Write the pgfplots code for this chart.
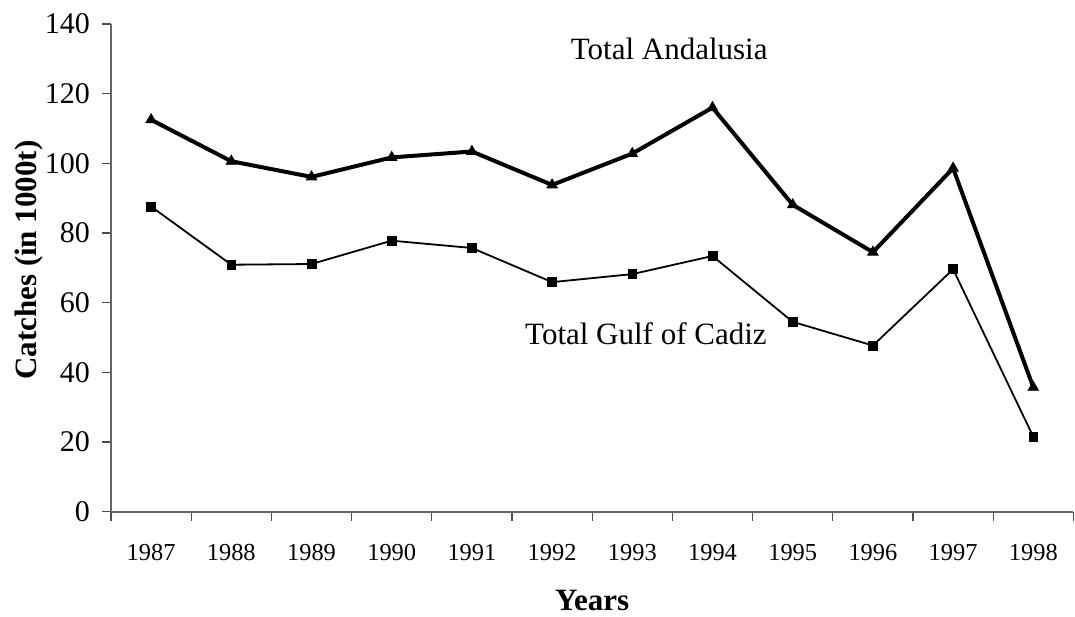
\documentclass[border=0pt]{standalone}
\usepackage{fontspec}
\setmainfont{Liberation Serif}
\usepackage{pgfplots}
\usepackage{pgfplotstable}
\pgfplotsset{compat=1.18}

% catches in 1000 t, years as 0..11 (1987..1998)
\pgfplotstableread{
idx andalusia cadiz
0   112.5  87.6
1   100.6  70.9
2    96.1  71.1
3   101.7  77.8
4   103.4  75.7
5    93.8  65.9
6   102.8  68.2
7   116.0  73.4
8    88.1  54.5
9    74.5  47.7
10   98.6  69.6
11   35.7  21.5
}\catches

\begin{document}
\begin{tikzpicture}
\useasboundingbox (-55.5pt,-52.15pt) rectangle (482pt,255.85pt);
\begin{axis}[
  scale only axis, width=481.2pt, height=243.85pt,
  xmin=-0.5, xmax=11.5, ymin=0, ymax=140,
  axis lines=left,
  axis line style={-, black!60, line width=0.8pt},
  tick align=outside, major tick length=4.5pt,
  tick style={black!70, line width=0.6pt},
  xtick={-0.5,0.5,...,11.5},
  x tick label as interval,
  xticklabels={1987,1988,1989,1990,1991,1992,1993,1994,1995,1996,1997,1998},
  ytick={0,20,...,140},
  /pgf/number format/assume math mode=true,
  xticklabel style={font=\fontsize{12.2}{14}\selectfont, yshift=-8.5pt},
  yticklabel style={font=\fontsize{15}{18}\selectfont, xshift=-2.5pt},
  ylabel={\textbf{Catches (in 1000t)}},
  xlabel={\textbf{Years}},
  every axis y label/.style={at={(axis description cs:-0.0852,0.516)}, rotate=90, anchor=center, font=\fontsize{15.5}{18}\selectfont},
  every axis x label/.style={at={(axis description cs:0.5,-0.2035)}, anchor=base, font=\fontsize{15.5}{18}\selectfont},
  clip=false,
]
\addplot[black, line width=2pt, mark=triangle*, mark size=3pt, mark options={line width=0.4pt}]
  table[x=idx, y=andalusia] {\catches};
\addplot[black, line width=0.9pt, mark=square*, mark size=2.2pt, mark options={line width=0.4pt}]
  table[x=idx, y=cadiz] {\catches};
\node[anchor=base, font=\fontsize{15.5}{18}\selectfont] at (axis cs:6.46,129.9) {Total Andalusia};
\node[anchor=base, font=\fontsize{15.5}{18}\selectfont] at (axis cs:6.17,48.1) {Total Gulf of Cadiz};
\end{axis}
\end{tikzpicture}
\end{document}
